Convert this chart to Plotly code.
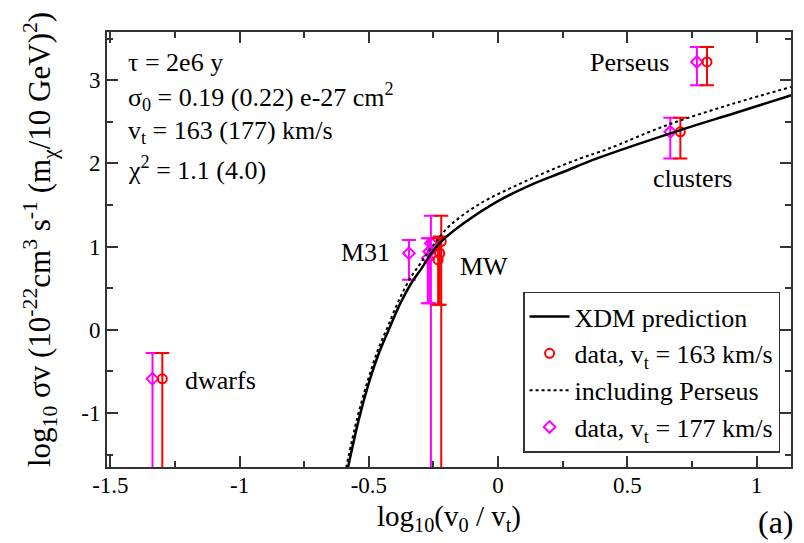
import plotly.graph_objects as go

# XDM prediction curves: log10(v0/vt) vs log10 sigma*v
xdm_x = [-0.581, -0.539, -0.500, -0.461, -0.423, -0.378, -0.332, -0.300, -0.249,
         -0.210, -0.133, -0.004, 0.125, 0.254, 0.383, 0.705, 0.911, 1.135]
xdm_y = [-1.66, -1.08, -0.64, -0.28, 0.00, 0.32, 0.58, 0.72, 0.96,
         1.09, 1.28, 1.54, 1.74, 1.90, 2.06, 2.40, 2.60, 2.82]

pers_x = [-0.588, -0.545, -0.505, -0.466, -0.428, -0.383, -0.338, -0.300, -0.250,
          -0.184, -0.068, 0.060, 0.189, 0.318, 0.421, 0.653, 0.911, 1.135]
pers_y = [-1.66, -1.06, -0.62, -0.25, 0.03, 0.36, 0.63, 0.80, 1.02,
          1.26, 1.52, 1.72, 1.90, 2.06, 2.17, 2.46, 2.72, 2.92]

# data with v_t = 163 km/s: dwarfs, MW (3), clusters, Perseus
d163_x = [-1.299, -0.232, -0.226, -0.220, 0.705, 0.808]
d163_y = [-0.59, 0.84, 0.92, 1.06, 2.38, 3.22]
d163_up = [0.31, 0.26, 0.20, 0.31, 0.17, 0.18]
d163_dn = [2.0, 0.54, 0.62, 3.0, 0.32, 0.28]

# data with v_t = 177 km/s: dwarfs, M31, MW (3), clusters, Perseus
d177_x = [-1.337, -0.345, -0.272, -0.266, -0.260, 0.666, 0.769]
d177_y = [-0.59, 0.92, 0.86, 0.94, 1.04, 2.38, 3.22]
d177_up = [0.31, 0.16, 0.24, 0.16, 0.33, 0.17, 0.18]
d177_dn = [2.0, 0.32, 0.54, 0.62, 3.0, 0.32, 0.28]

x_ticks = [-1.5, -1, -0.5, 0, 0.5, 1]
x_ticklabels = ["-1.5", "-1", "-0.5", "0", "0.5", "1"]
y_ticks = [-1, 0, 1, 2, 3]
y_ticklabels = ["-1", "0", "1", "2", "3"]

SERIF = "Times New Roman, Liberation Serif, DejaVu Serif, serif"
RED = "#ff0000"
MAG = "#ff00ff"

fig = go.Figure()

fig.add_trace(go.Scatter(
    x=d177_x, y=d177_y, mode="markers", name="data, v<sub>t</sub> = 177 km/s",
    marker=dict(symbol="diamond-open", size=9, color=MAG, line=dict(width=2, color=MAG)),
    error_y=dict(type="data", symmetric=False, array=d177_up, arrayminus=d177_dn,
                 color=MAG, thickness=2, width=7),
    legendrank=4,
))
fig.add_trace(go.Scatter(
    x=d163_x, y=d163_y, mode="markers", name="data, v<sub>t</sub> = 163 km/s",
    marker=dict(symbol="circle-open", size=9, color=RED, line=dict(width=2, color=RED)),
    error_y=dict(type="data", symmetric=False, array=d163_up, arrayminus=d163_dn,
                 color=RED, thickness=2, width=7),
    legendrank=2,
))
fig.add_trace(go.Scatter(
    x=pers_x, y=pers_y, mode="lines", name="including Perseus",
    line=dict(color="black", width=2, dash="dot", shape="spline"),
    legendrank=3,
))
fig.add_trace(go.Scatter(
    x=xdm_x, y=xdm_y, mode="lines", name="XDM prediction",
    line=dict(color="black", width=2.5, shape="spline"),
    legendrank=1,
))

axis_common = dict(
    showgrid=False, zeroline=False, showline=True, linecolor="#333333", linewidth=2,
    mirror="allticks", ticks="inside", ticklen=11, tickwidth=2, tickcolor="#333333",
    tickfont=dict(family=SERIF, size=23, color="black"),
)

fig.update_xaxes(
    range=[-1.513, 1.133], tickvals=x_ticks, ticktext=x_ticklabels,
    ticklabelstandoff=-4,
    minor=dict(ticks="inside", ticklen=6, tickwidth=2, tickcolor="#333333", dtick=0.25,
               tick0=0, showgrid=False),
    **axis_common,
)
fig.update_yaxes(
    range=[-1.65, 3.58], tickvals=y_ticks, ticktext=y_ticklabels,
    minor=dict(ticks="inside", ticklen=6, tickwidth=2, tickcolor="#333333", dtick=0.5,
               tick0=0, showgrid=False),
    **axis_common,
)

def note(text, x, y, size=26, xanchor="left", **kw):
    fig.add_annotation(text=text, x=x, y=y, xref="paper", yref="paper", showarrow=False,
                       xanchor=xanchor, yanchor="middle",
                       font=dict(family=SERIF, size=size, color="black"), **kw)

W, H = 804, 543
L, R, T, B = 107, 13, 32, 76
pw, ph = W - L - R, H - T - B

def px(xp):
    return (xp - L) / pw

def py(yp):
    return (H - B - yp) / ph

note("τ = 2e6 y", px(126), py(62))
note("σ<sub>0</sub> = 0.19 (0.22) e-27 cm<sup>2</sup>", px(126), py(97))
note("v<sub>t</sub> = 163 (177) km/s", px(126), py(132))
note("χ<sup>2</sup> = 1.1 (4.0)", px(126), py(168))

note("Perseus", px(588), py(62))
note("clusters", px(651), py(178))
note("M31", px(339), py(252))
note("MW", px(458), py(266))
note("dwarfs", px(183), py(380))

note("log<sub>10</sub>(v<sub>0</sub> / v<sub>t</sub>)", px(449), py(518), size=29, xanchor="center")
note("(a)", px(776), py(522), size=32, xanchor="center")
note("log<sub>10</sub> σv (10<sup>-22</sup>cm<sup>3</sup> s<sup>-1</sup> (m<sub>χ</sub>/10 GeV)<sup>2</sup>)",
     px(40), py(240), size=31, xanchor="center", textangle=-90)

fig.update_layout(
    width=W, height=H,
    margin=dict(l=L, r=R, t=T, b=B),
    paper_bgcolor="white", plot_bgcolor="white",
    font=dict(family=SERIF),
    showlegend=True,
    legend=dict(
        x=0.984, y=0.033, xanchor="right", yanchor="bottom",
        bgcolor="white", bordercolor="#333333", borderwidth=1.5,
        font=dict(family=SERIF, size=26, color="black"),
        tracegroupgap=0, itemwidth=40,
    ),
)

fig.write_html("out.html")
